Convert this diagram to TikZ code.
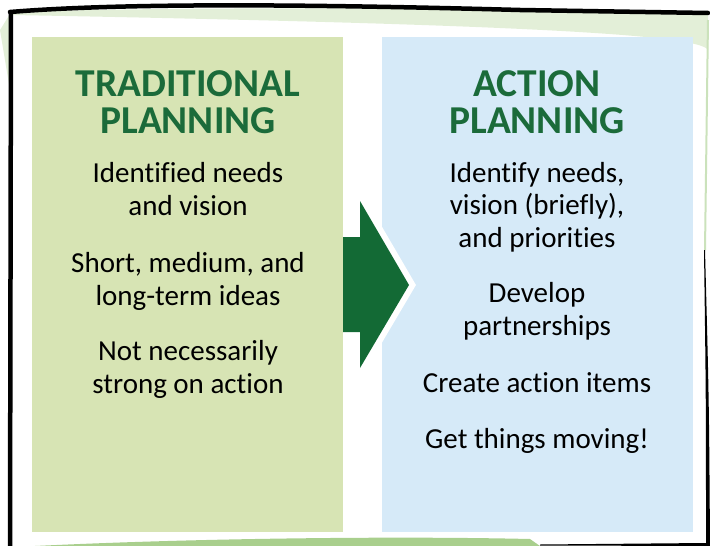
\documentclass[tikz,border=0pt]{standalone}
\usepackage{fontspec}
\setmainfont{Carlito}[Ligatures=NoCommon]
\definecolor{titlegreen}{HTML}{1B6B3A}
\definecolor{arrowgreen}{HTML}{136A35}
\definecolor{oldpanel}{HTML}{D7E4B4}
\definecolor{newpanel}{HTML}{D6EAF8}
\definecolor{wash}{HTML}{E3EFD8}
\definecolor{leaf}{HTML}{A9CF8D}
\begin{document}
\begin{tikzpicture}[x=1pt,y=-1pt]
        \tikzstyle{heading}=[font=\fontsize{39.5}{36.5}\selectfont\bfseries, text=titlegreen, align=center, anchor=base, inner sep=0pt]
        \tikzstyle{item}=[font=\fontsize{29}{32.5}\selectfont, align=center, anchor=base, inner sep=0pt]
        \useasboundingbox (0,0) rectangle (710,546);
        % frame
        \fill[wash] (12,12) .. controls (200,6) and (500,8) .. (708,14) -- (708,50) .. controls (700,34) and (500,24) .. (12,15) -- cycle;
        \fill[wash] (0,30) -- (10,14) -- (10,90) -- cycle;
        \draw[leaf!60, line width=2pt] (708,20) -- (705,250);
        \fill[leaf] (35,546) .. controls (200,538) and (400,536) .. (530,539) -- (540,546) -- cycle;
        \draw[line width=4.5pt, line cap=round] (10,12) .. controls (120,3) and (300,4) .. (520,10) -- (708,13);
        \draw[line width=4.5pt] (11,12) -- (10,546);
        \fill (704,250) .. controls (706,400) .. (706,546) -- (710,546) .. controls (709,400) .. (705,250) -- cycle;
        \fill (540,544.5) -- (706,543) -- (706,546) -- (540,545.5) -- cycle;
        % panels
        \fill[oldpanel] (32,37) rectangle (343,532);
        \fill[newpanel] (382,37) rectangle (693,532);
        \draw[white, line width=12pt, line join=miter] (360,201) -- (409,285) -- (360,368);
        \fill[arrowgreen] (343,237) -- (360,237) -- (360,201) -- (409,285) -- (360,368) -- (360,332) -- (343,332) -- cycle;
        % texts (anchored at the last baseline)
        \node[heading] (old) at (188,133) {TRADITIONAL\\PLANNING};
        \node[item] (old1) at (188,215) {Identified needs\\and vision};
        \node[item] (old2) at (188,305) {Short, medium, and\\long-term ideas};
        \node[item] (old3) at (188,393) {Not necessarily\\strong on action};
        \node[heading] (new) at (537,133) {ACTION\\PLANNING};
        \node[item] (new1) at (537,247) {Identify needs,\\vision (briefly),\\and priorities};
        \node[item] (new2) at (537,335) {Develop\\partnerships};
        \node[item] (new3) at (537,392) {Create action items};
        \node[item] (new4) at (537,448) {Get things moving!};
\end{tikzpicture}
\end{document}
